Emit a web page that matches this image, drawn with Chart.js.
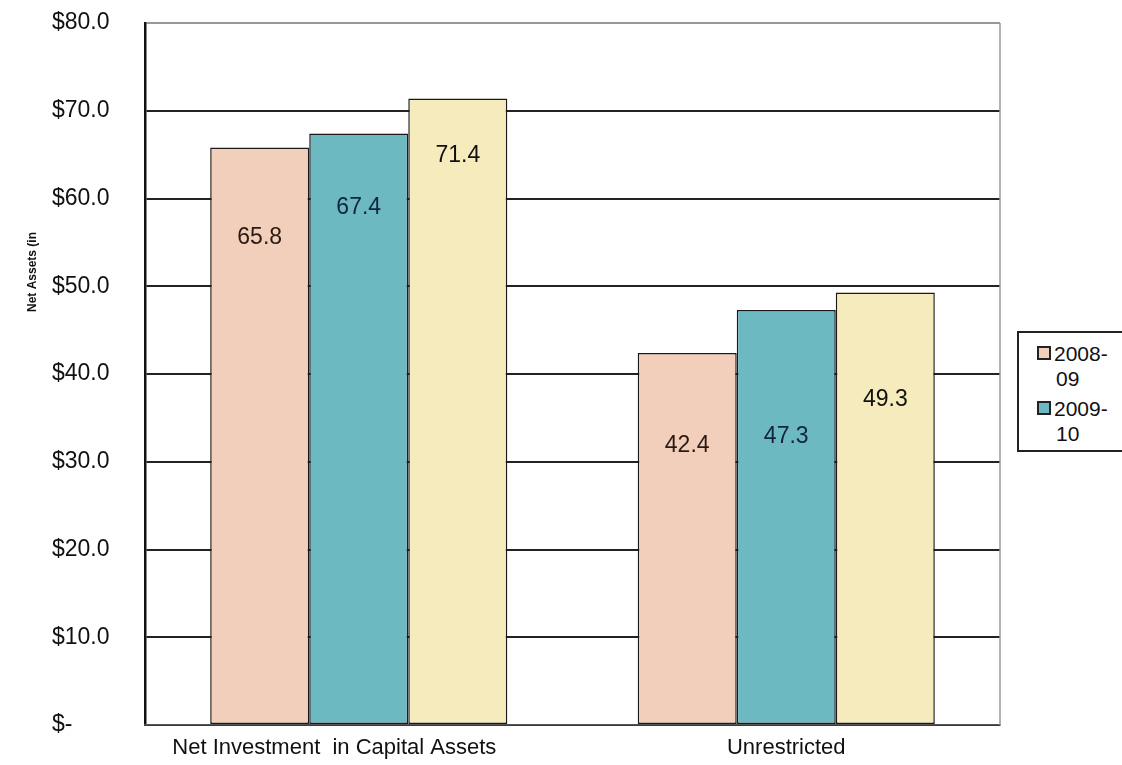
<!DOCTYPE html>
<html>
<head>
<meta charset="utf-8">
<script src="https://cdn.jsdelivr.net/npm/chart.js@4/dist/chart.umd.min.js"></script>
<style>
  html, body { margin: 0; padding: 0; background: #fff; overflow: hidden; }
  #wrap { position: relative; width: 1122px; height: 765px; }
  #legend {
    position: absolute; left: 1017px; top: 331px; width: 120px; height: 117px;
    border: 2px solid #222; background: #fff;
    font: 21px "Liberation Sans", Arial, sans-serif; color: #111;
  }
  .item { position: absolute; left: 18px; line-height: 25px; }
  .box { display: inline-block; width: 10px; height: 10px; border: 2px solid #222; margin-right: 3px; vertical-align: 1px; }
  .second { padding-left: 19px; }
</style>
</head>
<body>
<div id="wrap">
  <canvas id="chart" width="1122" height="765"></canvas>
  <div id="legend"></div>
</div>
<script>
// categories and series
const categories = ['Net Investment  in Capital Assets', 'Unrestricted'];
const seriesLabels = ['2008-09', '2009-10', '2010-11'];
const values0809 = [65.8, 42.4];
const values0910 = [67.4, 47.3];
const values1011 = [71.4, 49.3];
const yTicks = [0, 10, 20, 30, 40, 50, 60, 70, 80];

const fills = ['#f2cfbb', '#6cb9c1', '#f6ebbd'];
const labelColors = ['#2a1a14', '#10263a', '#111'];
// label distance below each bar top (px), as placed in the original
const labelDrop = [[90, 93], [74, 127], [57, 107]];
const FONT = '"Liberation Sans", Arial, sans-serif';

// value labels inside the bars + y title + right border
const extras = {
  id: 'extras',
  afterDatasetsDraw(chart) {
    const ctx = chart.ctx;
    const area = chart.chartArea;
    ctx.save();
    ctx.font = '23px ' + FONT;
    ctx.textAlign = 'center';
    ctx.textBaseline = 'middle';
    chart.data.datasets.forEach((ds, i) => {
      chart.getDatasetMeta(i).data.forEach((bar, j) => {
        ctx.fillStyle = labelColors[i];
        ctx.fillText(ds.data[j].toFixed(1), bar.x, bar.y + labelDrop[i][j]);
      });
    });
    // right border of plot
    ctx.strokeStyle = '#999';
    ctx.lineWidth = 1.5;
    ctx.beginPath();
    ctx.moveTo(area.right, area.top);
    ctx.lineTo(area.right, area.bottom);
    ctx.stroke();
    // axis title (cut off as in the original)
    ctx.translate(33, 272);
    ctx.rotate(-Math.PI / 2);
    ctx.font = 'bold 12px ' + FONT;
    ctx.fillStyle = '#111';
    ctx.fillText('Net Assets (in', 0, 0);
    ctx.restore();
  }
};

new Chart(document.getElementById('chart'), {
  type: 'bar',
  data: {
    labels: categories,
    datasets: [values0809, values0910, values1011].map((d, i) => ({
      label: seriesLabels[i],
      data: d,
      backgroundColor: fills[i],
      borderColor: '#1a1a1a',
      borderWidth: 1.5,
      borderSkipped: false,
      categoryPercentage: 0.695,
      barPercentage: 1.0
    }))
  },
  options: {
    responsive: false,
    animation: false,
    layout: { padding: { left: 52, top: 23, right: 122, bottom: 0 } },
    plugins: {
      legend: { display: false },
      tooltip: { enabled: false }
    },
    scales: {
      y: {
        min: 0, max: 80,
        afterBuildTicks(scale) { scale.ticks = yTicks.map(v => ({ value: v })); },
        afterFit(scale) { scale.width = 93; },
        ticks: {
          crossAlign: 'far',
          color: '#111',
          font: { family: FONT, size: 23 },
          callback: v => v === 0 ? '$-' : '$' + v.toFixed(1)
        },
        grid: {
          drawTicks: false,
          color: c => c.tick && c.tick.value === 80 ? '#999' : '#222',
          lineWidth: 2
        },
        border: { display: true, color: '#111', width: 2.5 }
      },
      x: {
        afterFit(scale) { scale.height = 40; },
        ticks: {
          color: '#111',
          padding: 10,
          maxRotation: 0,
          font: { family: FONT, size: 22 },
          // first label sits a little left of its group in the original
          callback: function (v, i) {
            const s = this.getLabelForValue(v);
            return i === 0 ? s + '        ' : s;
          }
        },
        grid: { display: false, drawTicks: false },
        border: { display: true, color: '#555', width: 1.5 }
      }
    }
  },
  plugins: [extras]
});

// legend: only the first two entries fit in the original
const legend = document.getElementById('legend');
seriesLabels.slice(0, 2).forEach((lab, i) => {
  const parts = lab.split('-');
  const item = document.createElement('div');
  item.className = 'item';
  item.style.top = (8 + i * 55) + 'px';
  item.innerHTML = '<span class="box" style="background:' + fills[i] + '"></span>' + parts[0] + '-<br><span class="second">' + parts[1] + '</span>';
  legend.appendChild(item);
});
</script>
</body>
</html>
